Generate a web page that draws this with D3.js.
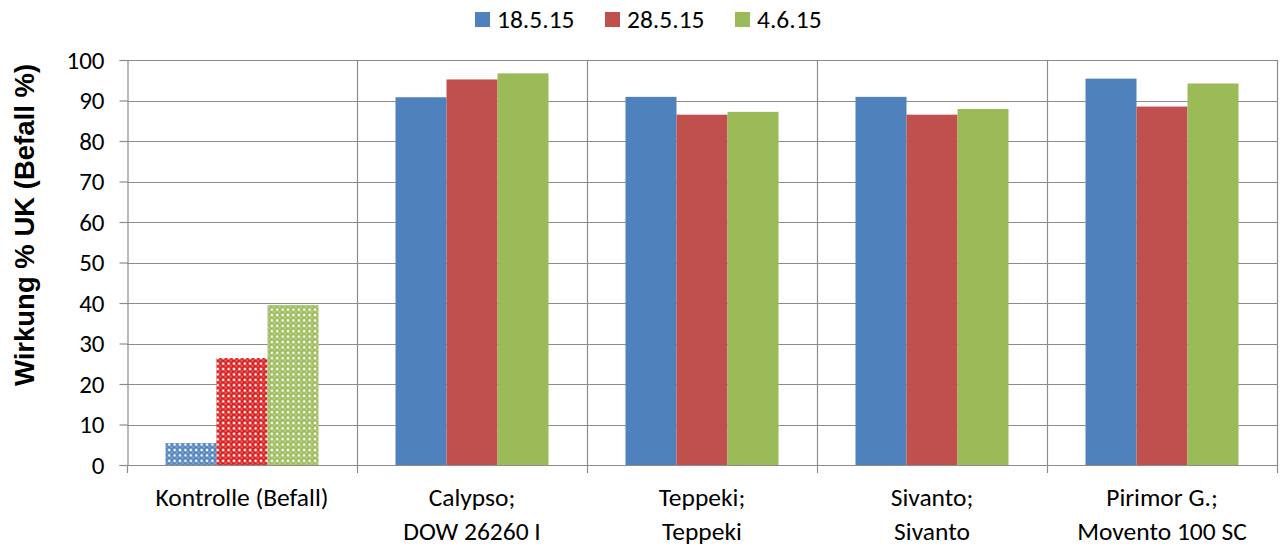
<!DOCTYPE html>
<html>
<head>
<meta charset="utf-8">
<script src="https://cdn.jsdelivr.net/npm/d3@7"></script>
<style>
  html, body { margin: 0; padding: 0; background: #fff; }
  svg { display: block; }
  .lbl { font-family: Carlito, Calibri, Lato, "Open Sans", sans-serif; fill: #000; }
</style>
</head>
<body>
<svg id="chart" width="1281" height="549"></svg>
<script>
// Categories (two-line labels) and the three assessment dates
const categories = [
  ["Kontrolle (Befall)"],
  ["Calypso;", "DOW 26260 I"],
  ["Teppeki;", "Teppeki"],
  ["Sivanto;", "Sivanto"],
  ["Pirimor G.;", "Movento 100 SC"]
];
const seriesNames = ["18.5.15", "28.5.15", "4.6.15"];
const seriesColors = ["#4f81bd", "#c0504d", "#9bbb59"];
const patternColors = ["#4f81bd", "#d91c1c", "#9bbb59"];

// Values per date, one entry per category
const values18_5 = [5.4, 90.8, 90.9, 90.9, 95.4];
const values28_5 = [26.4, 95.2, 86.5, 86.5, 88.5];
const values4_6  = [39.5, 96.7, 87.2, 87.9, 94.2];
const seriesValues = [values18_5, values28_5, values4_6];

const yTicks = [0, 10, 20, 30, 40, 50, 60, 70, 80, 90, 100];
const yTitle = "Wirkung % UK (Befall %)";

const svg = d3.select("#chart");
const plot = { left: 127, right: 1277, top: 60, bottom: 465 };

const x = d3.scaleBand()
  .domain(d3.range(categories.length))
  .range([plot.left, plot.right])
  .paddingInner(0).paddingOuter(0);

const xs = d3.scaleBand()
  .domain(d3.range(seriesNames.length))
  .range([0, x.bandwidth()])
  .paddingInner(0)
  .paddingOuter(0.755);

const y = d3.scaleLinear().domain([0, 100]).range([plot.bottom, plot.top]);

// Checkered fills for the untreated control
const defs = svg.append("defs");
patternColors.forEach((c, i) => {
  const p = defs.append("pattern")
    .attr("id", "chk" + i)
    .attr("patternUnits", "userSpaceOnUse")
    .attr("width", 5.4).attr("height", 5.4);
  p.append("rect").attr("width", 5.4).attr("height", 5.4).attr("fill", c);
  p.append("rect").attr("x", 0.6).attr("y", 0.6).attr("width", 2.4).attr("height", 2.4).attr("fill", "#fff");
  p.append("rect").attr("x", 3.2).attr("y", 3.2).attr("width", 2.0).attr("height", 2.0).attr("fill", "#fff").attr("opacity", 0.35);
});

const gridColor = "#8c8c8c";

// Horizontal gridlines
svg.append("g")
  .selectAll("line").data(yTicks).join("line")
  .attr("x1", plot.left).attr("x2", plot.right)
  .attr("y1", d => Math.round(y(d)) + 0.5).attr("y2", d => Math.round(y(d)) + 0.5)
  .attr("stroke", gridColor).attr("stroke-width", 1.2);

// Vertical separators between categories (and right border)
const bounds = d3.range(categories.length + 1).map(i => i < categories.length ? x(i) : plot.right);
svg.append("g")
  .selectAll("line").data(bounds.slice(1)).join("line")
  .attr("x1", d => Math.round(d) + 0.5).attr("x2", d => Math.round(d) + 0.5)
  .attr("y1", plot.top).attr("y2", plot.bottom)
  .attr("stroke", gridColor).attr("stroke-width", 1.2);

// Bars
seriesValues.forEach((vals, s) => {
  svg.append("g")
    .selectAll("rect").data(vals).join("rect")
    .attr("x", (d, i) => x(i) + xs(s))
    .attr("width", xs.bandwidth())
    .attr("y", d => y(d))
    .attr("height", d => y(0) - y(d))
    .attr("fill", (d, i) => i === 0 ? `url(#chk${s})` : seriesColors[s]);
});

// Y axis
const yAxis = d3.axisLeft(y).tickValues(yTicks).tickSize(8).tickPadding(15);
const yg = svg.append("g").attr("transform", `translate(${plot.left + 0.5},0)`).call(yAxis);
yg.select(".domain").attr("stroke", gridColor).attr("stroke-width", 1.2);
yg.selectAll(".tick line").attr("stroke", gridColor).attr("stroke-width", 1.2);
yg.selectAll(".tick text").attr("class", "lbl").style("font-size", "25px").attr("fill", "#000");

// X axis baseline with category boundary ticks
const xg = svg.append("g");
xg.append("line")
  .attr("x1", plot.left).attr("x2", plot.right)
  .attr("y1", plot.bottom + 0.5).attr("y2", plot.bottom + 0.5)
  .attr("stroke", gridColor).attr("stroke-width", 1.2);
xg.selectAll("line.tk").data(bounds).join("line").attr("class", "tk")
  .attr("x1", d => Math.round(d) + 0.5).attr("x2", d => Math.round(d) + 0.5)
  .attr("y1", plot.bottom).attr("y2", plot.bottom + 8)
  .attr("stroke", gridColor).attr("stroke-width", 1.2);

// Category labels
const cl = svg.append("g").selectAll("text").data(categories).join("text")
  .attr("class", "lbl")
  .attr("text-anchor", "middle")
  .style("font-size", "25.5px")
  .attr("x", (d, i) => x(i) + x.bandwidth() / 2)
  .attr("y", 506);
cl.selectAll("tspan").data(d => d).join("tspan")
  .attr("x", function () { return d3.select(this.parentNode).attr("x"); })
  .attr("dy", (d, i) => i === 0 ? 0 : 34)
  .text(d => d);

// Y title
svg.append("text")
  .attr("transform", "translate(34,225) rotate(-90)")
  .attr("text-anchor", "middle")
  .style("font-family", "'Liberation Sans', Arial, sans-serif")
  .style("font-weight", "bold")
  .style("font-size", "27.5px")
  .text(yTitle);

// Legend
const legendX = [475, 605, 735];
const lg = svg.append("g").selectAll("g").data(seriesNames).join("g")
  .attr("transform", (d, i) => `translate(${legendX[i]},12)`);
lg.append("rect").attr("width", 15).attr("height", 15).attr("fill", (d, i) => seriesColors[i]);
lg.append("text").attr("class", "lbl").attr("x", 22).attr("y", 16)
  .style("font-size", "25.5px").text(d => d);
</script>
</body>
</html>
